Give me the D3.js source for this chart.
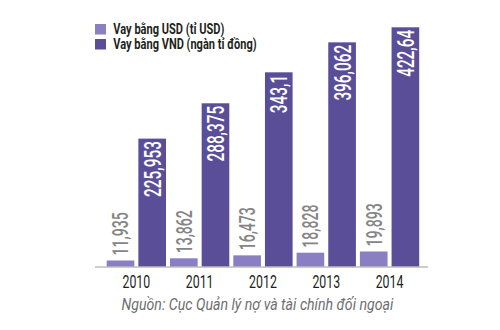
<!DOCTYPE html>
<html><head><meta charset="utf-8">
<script src="https://cdn.jsdelivr.net/npm/d3@7"></script>
<style>html,body{margin:0;padding:0;background:#fff;}svg{display:block;}</style>
</head><body>
<svg id="c" width="500" height="330"></svg>
<script>
const years = ["2010","2011","2012","2013","2014"];
const usdValues = [11.935, 13.862, 16.473, 18.828, 19.893];
const vndValues = [225.953, 288.375, 343.1, 396.062, 422.64];
const usdLabels = ["11,935","13,862","16,473","18,828","19,893"];
const vndLabels = ["225,953","288,375","343,1","396,062","422,64"];
const seriesNames = ["Vay bằng USD (tỉ USD)","Vay bằng VND (ngàn tỉ đồng)"];
const sourceText = "Nguồn: Cục Quản lý nợ và tài chính đối ngoại";

const colUSD = "#8a7fc3", colVND = "#5b4e99";
const svg = d3.select("#c");
const base = 266.5;
const x = d3.scaleBand().domain(years).range([104.7, 421.2]).paddingInner(0.063).paddingOuter(0.0315);
const xs = d3.scaleBand().domain(["usd","vnd"]).range([0, x.bandwidth()]).paddingInner(0.127);
const yV = d3.scaleLinear().domain([0, 422.64]).range([base, 27.3]);
const yU = d3.scaleLinear().domain([6.6, 19.893]).range([base, 251.5]);

const g = svg.append("g");
const rows = years.map((yr,i)=>({yr, u:usdValues[i], v:vndValues[i], ul:usdLabels[i], vl:vndLabels[i]}));

g.selectAll("rect.u").data(rows).join("rect").attr("class","u")
  .attr("x", d=>x(d.yr)+xs("usd")).attr("width", xs.bandwidth())
  .attr("y", d=>yU(d.u)).attr("height", d=>base-yU(d.u)).attr("fill", colUSD);
g.selectAll("rect.v").data(rows).join("rect").attr("class","v")
  .attr("x", d=>x(d.yr)+xs("vnd")).attr("width", xs.bandwidth())
  .attr("y", d=>yV(d.v)).attr("height", d=>base-yV(d.v)).attr("fill", colVND);

// axis
const axis = svg.append("g").attr("transform", `translate(0,${base+0.5})`)
  .call(d3.axisBottom(x).tickSize(0).tickPadding(0));
axis.select(".domain").attr("d", "M95,0H428").attr("stroke", "#9a9a9a");
axis.selectAll(".tick text").attr("font-family","Roboto").attr("font-size","18.7px")
  .attr("fill","#231f20").attr("dy", null).attr("y", 21)
  .attr("transform","scale(0.66,1)").attr("x",0);

// value labels
g.selectAll("text.ul").data(rows).join("text").attr("class","ul")
  .attr("transform", d=>`translate(${x(d.yr)+xs("usd")+xs.bandwidth()/2},${yU(d.u)-5}) rotate(-90) scale(0.64,1)`)
  .attr("dy","0.36em").attr("text-anchor","start")
  .attr("font-family","Roboto").attr("font-weight","500").attr("font-size","22px").attr("fill","#858585").text(d=>d.ul);
g.selectAll("text.vl").data(rows).join("text").attr("class","vl")
  .attr("transform", d=>`translate(${x(d.yr)+xs("vnd")+xs.bandwidth()/2},${yV(d.v)+2.5}) rotate(-90) scale(0.64,1)`)
  .attr("dy","0.36em").attr("text-anchor","end")
  .attr("font-family","Roboto").attr("font-weight","500").attr("font-size","24px").attr("fill","#ffffff").text(d=>d.vl);

function fitText(sel, w){
  sel.each(function(){
    const L = this.getComputedTextLength();
    const t = d3.select(this);
    const xx = +t.attr("data-x"), yy = +t.attr("data-y");
    t.attr("x",0).attr("y",0).attr("transform",`translate(${xx},${yy}) scale(${w/L},1)`);
  });
}

// legend
const lg = svg.append("g");
const legendColors = [colUSD, colVND];
const legendY = [24, 39];
const legendW = [111, 143.5];
seriesNames.forEach((n,i)=>{
  lg.append("rect").attr("x",95).attr("y",legendY[i]).attr("width",11).attr("height",10.5).attr("fill",legendColors[i]);
  const t = lg.append("text").attr("data-x",113.3).attr("data-y",legendY[i]+10.3)
    .attr("font-family","Roboto").attr("font-weight","bold").attr("font-size","14px")
    .attr("fill","#231f20").text(n);
  fitText(t, legendW[i]);
});

// source
const s = svg.append("text").attr("data-x",121.5).attr("data-y",310)
  .attr("font-family","Roboto").attr("font-style","italic").attr("font-size","16px")
  .attr("fill","#6d6e71").text(sourceText);
fitText(s, 272);
</script>
</body></html>
